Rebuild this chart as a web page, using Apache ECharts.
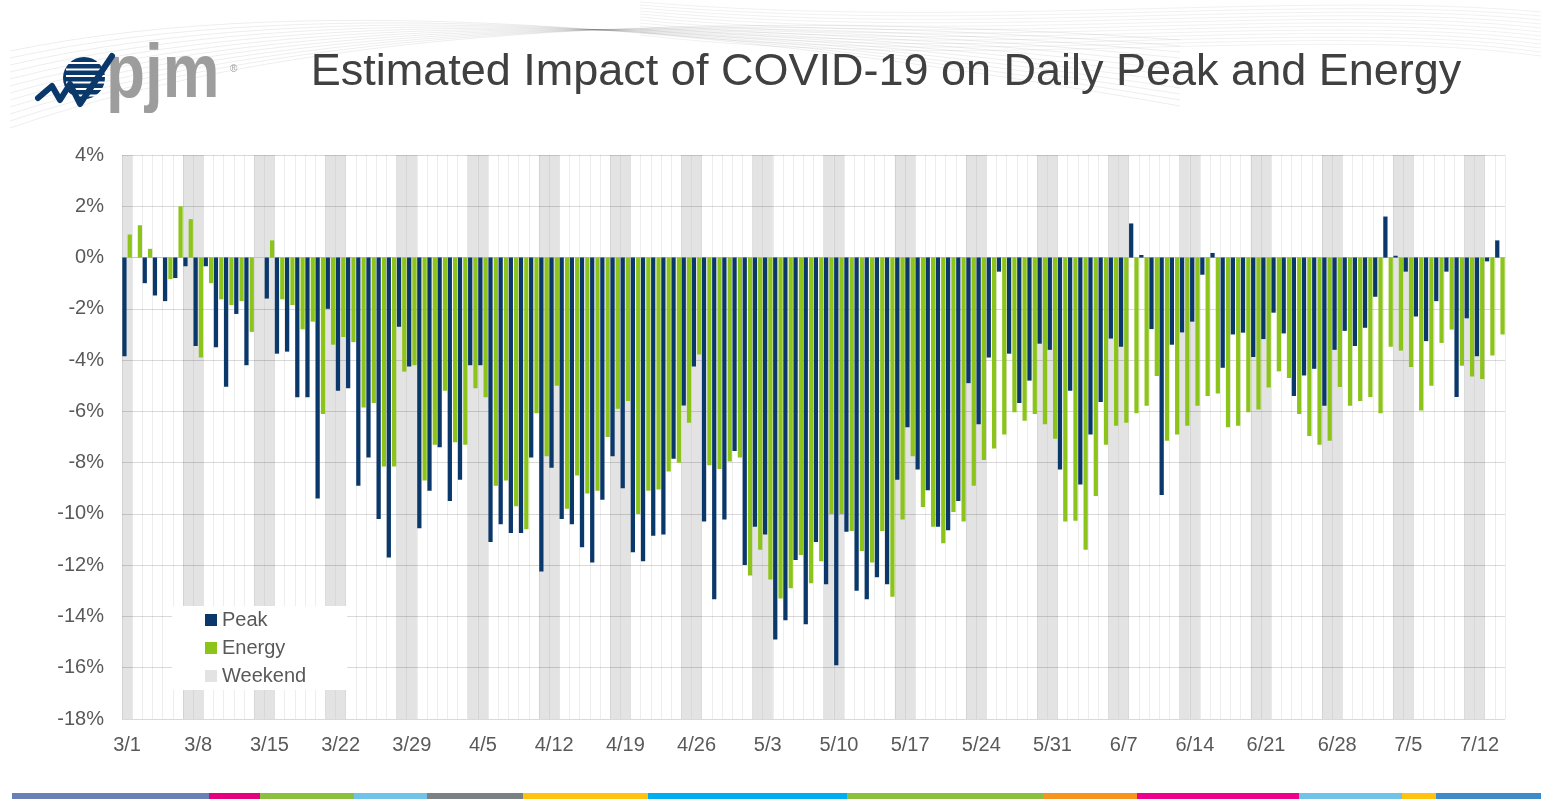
<!DOCTYPE html>
<html>
<head>
<meta charset="utf-8">
<script src="https://cdn.jsdelivr.net/npm/echarts@6/dist/echarts.min.js"></script>
<style>
html,body{margin:0;padding:0;background:#fff;}
#chart{width:1541px;height:799px;}
</style>
</head>
<body>
<div id="chart"></div>
<script>
// Month lengths used for the day categories (3/1 .. 7/14)
const monthSpans = [[3, 31], [4, 30], [5, 31], [6, 30], [7, 14]];
const categories = [];
monthSpans.forEach(([m, n]) => { for (let d = 1; d <= n; d++) categories.push(m + '/' + d); });

const weekendDays = ['3/1','3/7','3/8','3/14','3/15','3/21','3/22','3/28','3/29','4/4','4/5','4/11','4/12',
  '4/18','4/19','4/25','4/26','5/2','5/3','5/9','5/10','5/16','5/17','5/23','5/24','5/30','5/31',
  '6/6','6/7','6/13','6/14','6/20','6/21','6/27','6/28','7/4','7/5','7/11','7/12'];

const peak = [
  -3.85, 0, -1.0, -1.48, -1.7, -0.8, -0.34, -3.45, -0.34, -3.5, -5.04, -2.2, -4.2, 0,
  -1.6, -3.75, -3.67, -5.45, -5.45, -9.4, -2.0, -5.2, -5.1, -8.9, -7.8, -10.2, -11.7,
  -2.7, -4.25, -10.56, -9.1, -7.4, -9.5, -8.67, -4.2, -4.2, -11.1, -10.4, -10.74, -10.74,
  -7.8, -12.25, -8.2, -10.2, -10.4, -11.3, -11.9, -9.45, -7.75, -9.0, -11.5, -11.85,
  -10.85, -10.8, -7.85, -5.77, -4.25, -10.3, -13.33, -10.22, -7.55, -11.99, -10.5, -10.8,
  -14.9, -14.15, -11.8, -14.3, -11.1, -12.74, -15.9, -10.7, -13.0, -13.33, -12.47, -12.74,
  -8.67, -6.62, -8.27, -9.08, -10.5, -10.64, -9.5, -4.9, -6.5, -3.9, -0.55, -3.75, -5.67,
  -4.8, -3.36, -3.6, -8.27, -5.2, -8.85, -6.9, -5.63, -3.16, -3.48, 1.33, 0.1, -2.79,
  -9.26, -3.4, -2.92, -2.5, -0.67, 0.18, -4.3, -3.0, -2.93, -3.88, -3.18, -2.15, -2.96,
  -5.4, -4.6, -4.34, -5.78, -3.6, -2.86, -3.45, -2.74, -1.53, 1.6, 0.07, -0.55, -2.3,
  -3.26, -1.7, -0.55, -5.44, -2.37, -3.85, -0.15, 0.67
];

const energy = [
  0.9, 1.26, 0.34, 0, -0.84, 2.0, 1.5, -3.9, -1.0, -1.63, -1.85, -1.7, -2.9, 0,
  0.67, -1.63, -1.85, -2.8, -2.5, -6.1, -3.4, -3.1, -3.3, -5.85, -5.67, -8.15, -8.15,
  -4.45, -4.2, -8.7, -7.3, -5.2, -7.2, -7.3, -5.1, -5.45, -8.9, -8.7, -9.7, -10.6,
  -6.07, -7.75, -5.0, -9.8, -8.5, -9.2, -9.1, -7.0, -5.9, -5.6, -10.0, -9.1,
  -9.05, -8.35, -8.0, -6.44, -3.78, -8.1, -8.25, -7.96, -7.8, -12.4, -11.4, -12.56,
  -13.3, -12.9, -11.6, -12.7, -11.85, -10.0, -10.0, -10.67, -11.45, -11.9, -10.67, -13.23,
  -10.22, -7.75, -9.73, -10.5, -11.14, -9.93, -10.3, -8.9, -7.9, -7.45, -6.9, -6.03, -6.37,
  -6.1, -6.5, -7.07, -10.3, -10.27, -11.4, -9.3, -7.3, -6.56, -6.44, -6.07, -5.78, -4.62,
  -7.15, -6.9, -6.56, -5.78, -5.4, -5.3, -6.62, -6.56, -6.03, -5.93, -5.07, -4.44, -4.7,
  -6.1, -6.96, -7.3, -7.15, -5.05, -5.78, -5.6, -5.44, -6.07, -3.48, -3.63, -4.27, -5.97,
  -5.0, -3.33, -2.81, -4.22, -4.64, -4.74, -3.82, -3.0
];

const yTicks = { min: -18, max: 4, interval: 2 };
const titleText = 'Estimated Impact of COVID-19 on Daily Peak and Energy';

const weekend = categories.map(c => weekendDays.includes(c) ? 1 : null);

const NAVY = '#0b386b';
const GREEN = '#8dc41b';
const WEEKEND = '#e3e3e3';
const FONT = '"Liberation Sans", Arial, sans-serif';

const chart = echarts.init(document.getElementById('chart'), null, { renderer: 'canvas' });

// decorative header curves
const curves = [];
for (let k = 0; k < 12; k++) {
  curves.push({
    type: 'bezierCurve', silent: true, z: -10,
    shape: { x1: 10, y1: 128 - k * 7, cpx1: 320, cpy1: 20 - k * 3, cpx2: 760, cpy2: 10 + k * 2, x2: 1180, y2: 40 + k * 6 },
    style: { stroke: 'rgba(0,0,0,0.07)', lineWidth: 1, fill: null }
  });
  curves.push({
    type: 'bezierCurve', silent: true, z: -10,
    shape: { x1: 640, y1: 2 + k * 3, cpx1: 980, cpy1: 30 + k * 4, cpx2: 1300, cpy2: -10 + k * 3, x2: 1541, y2: 12 + k * 4 },
    style: { stroke: 'rgba(0,0,0,0.06)', lineWidth: 1, fill: null }
  });
}

const stripe = [
  [12, 209, '#6a7fb5'], [209, 260, '#e5007e'], [260, 354, '#8cbf3f'], [354, 427, '#6fc3e8'],
  [427, 523, '#7b8084'], [523, 648, '#ffc20e'], [648, 847, '#00aeef'], [847, 1043, '#8cbf3f'],
  [1043, 1137, '#f7941d'], [1137, 1299, '#ec008c'], [1299, 1402, '#6fc3e8'], [1402, 1436, '#ffc20e'],
  [1436, 1541, '#3d8bc9']
].map(([a, b, c]) => ({ type: 'rect', silent: true, shape: { x: a, y: 793, width: b - a, height: 6 }, style: { fill: c } }));

const logoStripes = [];
for (let k = 0; k < 6; k++) {
  logoStripes.push({ type: 'rect', silent: true, z: 11, shape: { x: 66, y: 62 + k * 6.5, width: 40, height: 2 }, style: { fill: '#fff' } });
}

const option = {
  backgroundColor: '#fff',
  animation: false,
  textStyle: { fontFamily: FONT },
  graphic: [
    ...curves,
    { type: 'circle', silent: true, z: 10, shape: { cx: 84, cy: 78, r: 21 }, style: { fill: NAVY } },
    ...logoStripes,
    { type: 'polyline', silent: true, z: 12, shape: { points: [[38, 98], [52, 86], [60, 100], [70, 84], [80, 104], [112, 56]] },
      style: { stroke: NAVY, lineWidth: 6, fill: null, lineJoin: 'round', lineCap: 'round' } },
    { type: 'text', silent: true, z: 10, x: 106, y: 38, scaleX: 0.84,
      style: { text: 'pjm', font: 'bold 76px ' + FONT, fill: '#9d9d9d', textVerticalAlign: 'top' } },
    { type: 'text', silent: true, z: 10, x: 230, y: 64,
      style: { text: '®', font: '10px ' + FONT, fill: '#9d9d9d' } },
    { type: 'text', silent: true, z: 10, x: 886, y: 73,
      style: { text: titleText, font: '45px ' + FONT, fill: '#404040', textAlign: 'center', textVerticalAlign: 'middle' } },
    ...stripe
  ],
  legend: {
    data: ['Peak', 'Energy', 'Weekend'],
    orient: 'vertical',
    left: 172, top: 606,
    backgroundColor: '#fff',
    padding: [4, 41, 4, 33],
    itemWidth: 12, itemHeight: 12, itemGap: 8,
    icon: 'rect',
    selectedMode: false,
    textStyle: { fontSize: 20, color: '#595959', lineHeight: 20, fontFamily: FONT },
    z: 20
  },
  grid: { left: 122, right: 36, top: 155, bottom: 80, containLabel: false },
  xAxis: [
    {
      type: 'category', data: categories, boundaryGap: true,
      axisLine: { show: true, lineStyle: { color: '#c4c4c4', width: 1 } },
      axisTick: { show: false },
      axisLabel: { interval: 6, fontSize: 20, color: '#595959', margin: 16, fontFamily: FONT },
      splitLine: { show: true, interval: 0, lineStyle: { color: 'rgba(0,0,0,0.07)', width: 1 } }
    },
    {
      type: 'category', data: categories, boundaryGap: true, show: false, position: 'bottom'
    }
  ],
  yAxis: [
    {
      type: 'value', min: yTicks.min, max: yTicks.max, interval: yTicks.interval,
      axisLine: { show: false }, axisTick: { show: false },
      axisLabel: { formatter: '{value}%', fontSize: 20, color: '#595959', margin: 18, fontFamily: FONT },
      splitLine: { show: true, lineStyle: { color: 'rgba(0,0,0,0.15)', width: 1 } }
    },
    { type: 'value', min: 0, max: 1, show: false }
  ],
  series: [
    {
      name: 'Weekend', type: 'bar', xAxisIndex: 1, yAxisIndex: 1,
      data: weekend, barWidth: '100%', z: -1, silent: true,
      itemStyle: { color: WEEKEND }
    },
    {
      name: 'Peak', type: 'bar', data: peak,
      barGap: '25%', barCategoryGap: '6%',
      itemStyle: { color: NAVY }
    },
    {
      name: 'Energy', type: 'bar', data: energy,
      barGap: '25%', barCategoryGap: '6%',
      itemStyle: { color: GREEN }
    }
  ]
};

chart.setOption(option);
</script>
</body>
</html>
